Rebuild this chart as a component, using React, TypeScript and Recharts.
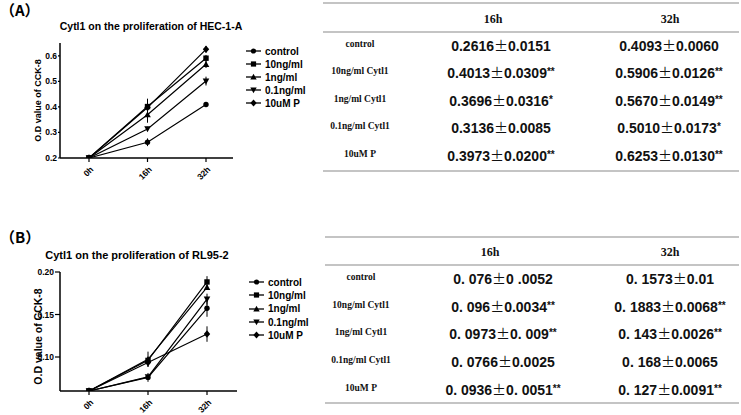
import React from "react";
import { LineChart, Line, XAxis, YAxis, ErrorBar, Legend, Label } from "recharts";

const sans = "'Liberation Sans', Arial, sans-serif";
const serif = "'Liberation Serif', 'Times New Roman', serif";
const cjk = "'Noto Sans CJK SC', sans-serif";

const times = ["0h", "16h", "32h"];
const groups = ["control", "10ng/ml", "1ng/ml", "0.1ng/ml", "10uM P"];
const shapes = ["circle", "square", "triangle", "invtriangle", "diamond"];

// HEC-1-A means / SD per group (0h, 16h, 32h)
const hecMeans = [
  [0.2, 0.2616, 0.4093],
  [0.2, 0.4013, 0.5906],
  [0.2, 0.3696, 0.567],
  [0.2, 0.3136, 0.501],
  [0.2, 0.3973, 0.6253],
];
const hecSd = [
  [0, 0.0151, 0.006],
  [0, 0.0309, 0.0126],
  [0, 0.0316, 0.0149],
  [0, 0.0085, 0.0173],
  [0, 0.02, 0.013],
];

// RL95-2
const rlMeans = [
  [0.06, 0.076, 0.1573],
  [0.06, 0.096, 0.1883],
  [0.06, 0.0973, 0.182],
  [0.06, 0.0766, 0.168],
  [0.06, 0.0936, 0.127],
];
const rlSd = [
  [0, 0.0052, 0.01],
  [0, 0.0034, 0.0068],
  [0, 0.009, 0.0026],
  [0, 0.0025, 0.0065],
  [0, 0.0051, 0.0091],
];

const hecTicks = [0.2, 0.3, 0.4, 0.5, 0.6];
const rlTicks = [0.1, 0.15, 0.2];

// table text
const rowLabels = ["control", "10ng/ml Cytl1", "1ng/ml Cytl1", "0.1ng/ml Cytl1", "10uM P"];
const hec16 = ["0.2616±0.0151", "0.4013±0.0309**", "0.3696±0.0316*", "0.3136±0.0085", "0.3973±0.0200**"];
const hec32 = ["0.4093±0.0060", "0.5906±0.0126**", "0.5670±0.0149**", "0.5010±0.0173*", "0.6253±0.0130**"];
const rl16 = ["0. 076±0 .0052", "0. 096±0.0034**", "0. 0973±0. 009**", "0. 0766±0.0025", "0. 0936±0. 0051**"];
const rl32 = ["0. 1573±0.01", "0. 1883±0.0068**", "0. 143±0.0026**", "0. 168±0.0065", "0. 127±0.0091**"];

const buildRows = (means: number[][], sd: number[][]) =>
  times.map((t, i) => {
    const row: any = { time: t };
    groups.forEach((_, k) => {
      row[`s${k}`] = means[k][i];
      row[`e${k}`] = sd[k][i];
    });
    return row;
  });

const hecData = buildRows(hecMeans, hecSd);
const rlData = buildRows(rlMeans, rlSd);

const Marker = ({ shape, cx, cy, s = 3 }: any) => {
  if (cx == null || cy == null) return null;
  switch (shape) {
    case "square":
      return <rect x={cx - s} y={cy - s} width={2 * s} height={2 * s} fill="#000" />;
    case "triangle":
      return <polygon points={`${cx},${cy - s - 0.6} ${cx + s + 0.6},${cy + s} ${cx - s - 0.6},${cy + s}`} fill="#000" />;
    case "invtriangle":
      return <polygon points={`${cx},${cy + s + 0.6} ${cx + s + 0.6},${cy - s} ${cx - s - 0.6},${cy - s}`} fill="#000" />;
    case "diamond":
      return <polygon points={`${cx},${cy - s - 1} ${cx + s + 0.5},${cy} ${cx},${cy + s + 1} ${cx - s - 0.5},${cy}`} fill="#000" />;
    default:
      return <circle cx={cx} cy={cy} r={s} fill="#000" />;
  }
};

const XTick = (props: any) => {
  const { x, y, payload } = props;
  return (
    <g transform={`translate(${x + 5},${y + 6})`}>
      <text x={0} y={0} textAnchor="end" transform="rotate(-45)" fontSize={8.5} fontWeight="bold" fontFamily={sans} fill="#000">
        {payload.value}
      </text>
    </g>
  );
};

// legend keeps the series order (Recharts sorts its payload by name)
const makeLegend = (rowH: number) => () => (
  <div style={{ fontFamily: sans, fontWeight: "bold", fontSize: 10, color: "#000" }}>
    {groups.map((g, k) => (
      <div key={g} style={{ display: "flex", alignItems: "center", height: rowH, whiteSpace: "nowrap" }}>
        <svg width={20} height={10} style={{ display: "block" }}>
          <line x1={1} x2={16} y1={5} y2={5} stroke="#000" strokeWidth={1.3} />
          <Marker shape={shapes[k]} cx={8.5} cy={5} s={2.6} />
        </svg>
        <span>{g}</span>
      </div>
    ))}
  </div>
);

const yLabel = (fontSize: number, dy: number) => (props: any) => {
  const vb = props.viewBox || {};
  const x = 38;
  const y = (vb.y || 0) + (vb.height || 0) / 2 + dy;
  return (
    <text x={x} y={y} transform={`rotate(-90, ${x}, ${y})`} textAnchor="middle" dominantBaseline="central" fontSize={fontSize} fontWeight="bold" fontFamily={sans} fill="#000">
      O.D value of CCK-8
    </text>
  );
};

type PanelProps = {
  data: any[];
  height: number;
  margin: any;
  domain: number[];
  ticks: number[];
  digits: number;
  yTickSize: number;
  xHeight: number;
  pad: { left: number; right: number };
  legendPos: { left: number; top: number };
  legendRow: number;
  labelSize: number;
  labelDy: number;
};

const Panel = (p: PanelProps) => (
  <LineChart width={330} height={p.height} data={p.data} margin={p.margin} style={{ overflow: "visible" }}>
    <XAxis
      dataKey="time"
      height={p.xHeight}
      padding={p.pad}
      interval={0}
      tick={<XTick />}
      tickSize={4}
      axisLine={{ stroke: "#000", strokeWidth: 1.5 }}
      tickLine={{ stroke: "#000", strokeWidth: 1.2 }}
    />
    <YAxis
      width={60}
      type="number"
      domain={p.domain}
      ticks={p.ticks}
      allowDataOverflow
      tickSize={p.yTickSize}
      tickMargin={1}
      tickFormatter={(v: number) => v.toFixed(p.digits)}
      tick={{ fontSize: 8.5, fontWeight: "bold", fontFamily: sans, fill: "#000" }}
      axisLine={{ stroke: "#000", strokeWidth: 1.5 }}
      tickLine={{ stroke: "#000", strokeWidth: 1.2 }}
    >
      <Label content={yLabel(p.labelSize, p.labelDy)} />
    </YAxis>
    <Legend
      layout="vertical"
      align="center"
      verticalAlign="middle"
      wrapperStyle={{ left: p.legendPos.left, top: p.legendPos.top, width: 90 }}
      content={makeLegend(p.legendRow)}
    />
    {groups.map((g, k) => (
      <Line
        key={g}
        name={g}
        dataKey={`s${k}`}
        type="linear"
        stroke="#000"
        strokeWidth={1.2}
        isAnimationActive={false}
        activeDot={false}
        dot={(d: any) => <Marker key={`${g}-${d.index}`} shape={shapes[k]} cx={d.cx} cy={d.cy} s={2.7} />}
      >
        <ErrorBar dataKey={`e${k}`} direction="y" width={0} stroke="#000" strokeWidth={1} />
      </Line>
    ))}
  </LineChart>
);

const ValueText = ({ x, y, value }: { x: number; y: number; value: string }) => {
  const stars = (value.match(/\*+$/) || [""])[0];
  const main = value.slice(0, value.length - stars.length);
  const [a, b] = main.split("±");
  return (
    <text x={x} y={y} dy="0.35em" textAnchor="middle" fontSize={14} fontWeight="bold" fontFamily={sans} fill="#111">
      <tspan>{a}</tspan>
      <tspan fontFamily={cjk} fontWeight="normal">±</tspan>
      <tspan>{b}</tspan>
      {stars && (
        <tspan fontSize={10} dy={-3}>
          {stars}
        </tspan>
      )}
    </text>
  );
};

const StatsTable = (t: {
  x1: number;
  x2: number;
  lines: number[];
  headY: number;
  rowY0: number;
  rowStep: number;
  labelX: number;
  c16: number;
  c32: number;
  h16: number;
  h32: number;
  v16: string[];
  v32: string[];
}) => (
  <g>
    {t.lines.map((ly, i) => (
      <line key={i} x1={t.x1} x2={t.x2} y1={ly} y2={ly} stroke="#8a8a8a" strokeWidth={1.2} />
    ))}
    <text x={t.h16} y={t.headY} dy="0.35em" textAnchor="middle" fontSize={12} fontWeight="bold" fontFamily={serif} fill="#111">
      16h
    </text>
    <text x={t.h32} y={t.headY} dy="0.35em" textAnchor="middle" fontSize={12} fontWeight="bold" fontFamily={serif} fill="#111">
      32h
    </text>
    {rowLabels.map((lab, i) => {
      const y = t.rowY0 + i * t.rowStep;
      return (
        <g key={lab}>
          <text x={t.labelX} y={y - 2.5} dy="0.35em" textAnchor="middle" fontSize={9.5} fontWeight="bold" fontFamily={serif} fill="#111">
            {lab}
          </text>
          <ValueText x={t.c16} y={y} value={t.v16[i]} />
          <ValueText x={t.c32} y={y} value={t.v32[i]} />
        </g>
      );
    })}
  </g>
);

export default function App() {
  return (
    <div style={{ position: "absolute", left: 0, top: 0, width: 741, height: 415, background: "#fff", overflow: "hidden" }}>
      <div style={{ position: "absolute", left: 0, top: 0 }}>
        <Panel
          data={hecData}
          height={200}
          margin={{ top: 43, right: 97, bottom: 0, left: 0 }}
          domain={[0.2, 0.65]}
          ticks={hecTicks}
          digits={1}
          yTickSize={2}
          xHeight={42}
          pad={{ left: 29, right: 27 }}
          legendPos={{ left: 245, top: 44.5 }}
          legendRow={13}
          labelSize={9}
          labelDy={0}
        />
      </div>
      <div style={{ position: "absolute", left: 0, top: 200 }}>
        <Panel
          data={rlData}
          height={215}
          margin={{ top: 72, right: 93, bottom: 0, left: 0 }}
          domain={[0.06, 0.2]}
          ticks={rlTicks}
          digits={2}
          yTickSize={5}
          xHeight={24}
          pad={{ left: 29, right: 30 }}
          legendPos={{ left: 248, top: 75.5 }}
          legendRow={13.3}
          labelSize={10.5}
          labelDy={5}
        />
      </div>
      <svg width={741} height={415} style={{ position: "absolute", left: 0, top: 0, pointerEvents: "none" }}>
        <text x={0} y={11} dy="0.35em" fontSize={15} fontWeight="bold" fontFamily={cjk} fill="#000">
          （A）
        </text>
        <text x={0} y={238} dy="0.35em" fontSize={15} fontWeight="bold" fontFamily={cjk} fill="#000">
          （B）
        </text>
        <text x={151} y={26} dy="0.35em" textAnchor="middle" fontSize={10.5} fontWeight="bold" fontFamily={sans} fill="#000">
          Cytl1 on the proliferation of HEC-1-A
        </text>
        <text x={137} y={255} dy="0.35em" textAnchor="middle" fontSize={11} fontWeight="bold" fontFamily={sans} fill="#000">
          Cytl1 on the proliferation of RL95-2
        </text>
        <StatsTable
          x1={323}
          x2={739}
          lines={[3, 32, 171]}
          headY={19}
          rowY0={46}
          rowStep={27.5}
          labelX={360}
          c16={501}
          c32={669}
          h16={493}
          h32={670}
          v16={hec16}
          v32={hec32}
        />
        <StatsTable
          x1={325}
          x2={739}
          lines={[237, 265, 403]}
          headY={252}
          rowY0={279}
          rowStep={27.7}
          labelX={361}
          c16={503}
          c32={670}
          h16={490}
          h32={670}
          v16={rl16}
          v32={rl32}
        />
      </svg>
    </div>
  );
}
